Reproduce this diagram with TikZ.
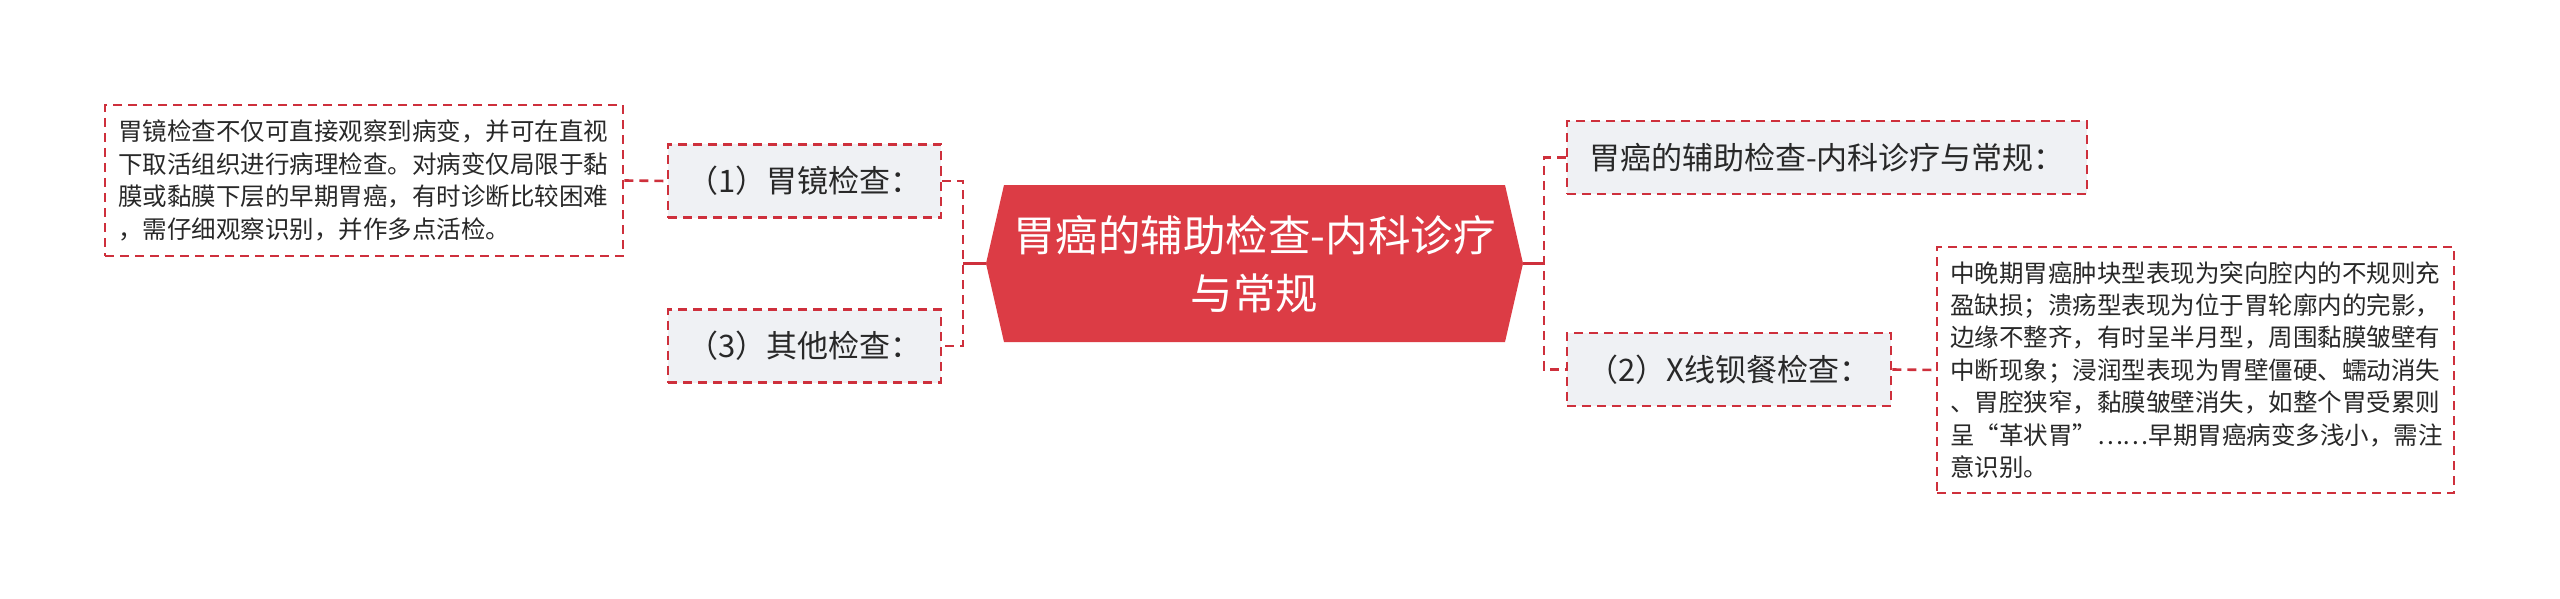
\documentclass[tikz,border=0pt]{standalone}
\usepackage{fontspec}
\newfontfamily\cjk{Noto Sans CJK SC}
\definecolor{mainred}{RGB}{220,60,69}
\definecolor{linered}{RGB}{206,48,60}
\definecolor{nodefill}{RGB}{239,241,244}
\definecolor{textdark}{RGB}{40,40,40}
\tikzset{
  dashline/.style={draw=linered, line width=2.6pt, dash pattern=on 9pt off 6pt},
  solidline/.style={draw=linered, line width=2.8pt},
  topic/.style={dashline, fill=nodefill, text=textdark, font=\cjk\fontsize{31}{38}\selectfont, inner sep=0pt, minimum height=73pt},
  detail/.style={dashline, fill=white, text=textdark, font=\cjk\fontsize{24.5}{32.4}\selectfont, align=left, inner xsep=13pt, inner ysep=0pt},
  maintext/.style={text=white, font=\cjk\fontsize{42.5}{58}\selectfont, align=center, inner sep=0pt},
}
\begin{document}
\begin{tikzpicture}[x=1pt,y=-1pt]
\useasboundingbox (0,0) rectangle (2560,599);
\fill[white] (0,0) rectangle (2560,599);

% central hexagon
\fill[mainred] (986,263.5) -- (1004,185) -- (1505,185) -- (1523,263.5) -- (1505,342) -- (1004,342) -- cycle;
\node[maintext] (main) at (1254.5,264) {胃癌的辅助检查-内科诊疗\\与常规};
\coordinate (mainL) at (986,263.5);
\coordinate (mainR) at (1523,263.5);
\coordinate (brL) at (963,263.5);
\coordinate (brR) at (1544,263.5);

% left topics
\node[topic, minimum width=273pt] (n1) at (804.5,181) {（1）胃镜检查：};
\node[topic, minimum width=273pt] (n3) at (804.5,346) {（3）其他检查：};
\node[detail, text width=492pt, minimum height=151pt] (ld) at (364,180.5) {胃镜检查不仅可直接观察到病变，并可在直视\\下取活组织进行病理检查。对病变仅局限于黏\\膜或黏膜下层的早期胃癌，有时诊断比较困难\\，需仔细观察识别，并作多点活检。};

% right topics
\node[topic, minimum width=520pt] (r1) at (1827,157.5) {胃癌的辅助检查-内科诊疗与常规：};
\node[topic, minimum width=324pt] (r2) at (1729,369.5) {（2）X线钡餐检查：};
\node[detail, text width=491pt, minimum height=246pt] (rd) at (2195.5,370) {中晚期胃癌肿块型表现为突向腔内的不规则充\\盈缺损；溃疡型表现为位于胃轮廓内的完影，\\边缘不整齐，有时呈半月型，周围黏膜皱壁有\\中断现象；浸润型表现为胃壁僵硬、蠕动消失\\、胃腔狭窄，黏膜皱壁消失，如整个胃受累则\\呈“革状胃”……早期胃癌病变多浅小，需注\\意识别。};

% connectors
\draw[dashline] (n1.east) -| (brL) |- (n3.east);
\draw[solidline] (mainL) -- (brL);
\draw[dashline] (r1.west) -| (brR) |- (r2.west);
\draw[solidline] (mainR) -- (brR);
\draw[dashline] (ld.east) -- (n1.west);
\draw[dashline] (r2.east) -- (rd.west);
\end{tikzpicture}
\end{document}
